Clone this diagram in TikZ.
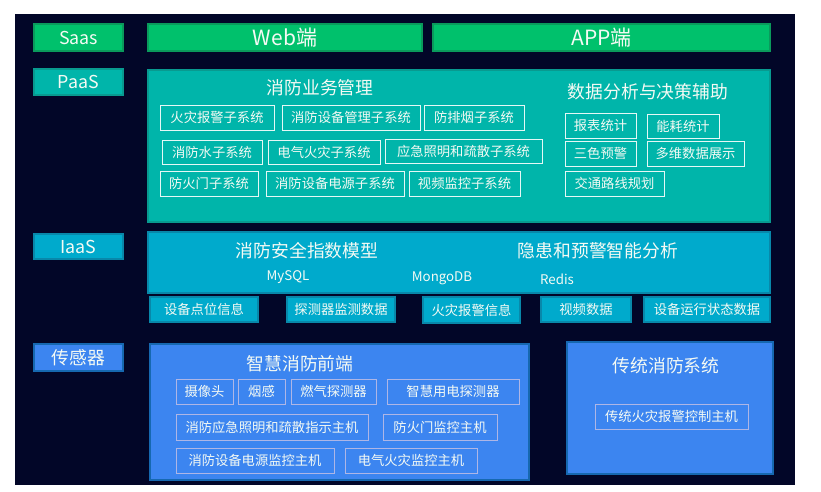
\documentclass[tikz,border=0pt]{standalone}
\usepackage{fontspec}
\setmainfont{Noto Sans CJK SC}
\definecolor{cBg}{HTML}{020628}
\definecolor{cGreen}{HTML}{00C16C}
\definecolor{cGreenB}{HTML}{0A9A5C}
\definecolor{cTeal}{HTML}{00B5AA}
\definecolor{cTealB}{HTML}{089A90}
\definecolor{cCyan}{HTML}{00AACC}
\definecolor{cCyanB}{HTML}{0888AA}
\definecolor{cBlue}{HTML}{3C85F0}
\definecolor{cBlueB}{HTML}{1668B0}
\definecolor{cLav}{HTML}{AEB6E6}
\definecolor{cTxt}{HTML}{F4FAF4}
\newcommand\rbox[7]{\node[#1, minimum width={#5pt-#3pt}, minimum height={#6pt-#4pt}] (#2) at ({(#3+#5)/2},{(#4+#6)/2}) {#7};}
\begin{document}
\begin{tikzpicture}[x=1pt,y=-1pt,
  base/.style={inner sep=0pt, outer sep=0pt, text=cTxt, font=\fontsize{13.3}{15}\selectfont},
  big/.style={base, font=\fontsize{17.8}{20}\selectfont},
  huge/.style={base, font=\fontsize{21}{24}\selectfont},
  grn/.style={fill=cGreen, draw=cGreenB, line width=1.3pt},
  tl/.style={fill=cTeal, draw=cTealB, line width=1.3pt},
  cy/.style={fill=cCyan, draw=cCyanB, line width=1.3pt},
  bl/.style={fill=cBlue, draw=cBlueB, line width=1.3pt},
  sbw/.style={base, draw=white!90!cTeal, line width=0.9pt},
  sbl/.style={base, draw=cLav, line width=0.9pt},
  sbc/.style={base, cy}]
\useasboundingbox (0,0) rectangle (821,491);
\fill[cBg] (15,14) rectangle (795,485);
% SaaS
\rbox{big,grn}{saas}{34}{24}{123}{51}{Saas}
\rbox{huge,grn}{web}{148}{24}{422}{51}{Web端}
\rbox{huge,grn}{app}{433}{24}{770}{51}{APP端}
% PaaS
\rbox{big,tl}{paas}{34}{69}{123}{95}{PaaS}
\rbox{base,tl}{paasbox}{148}{70}{770}{222}{}
\node[big] (t1) at (320,88) {消防业务管理};
\rbox{sbw}{f1}{160}{105}{274}{130}{火灾报警子系统}
\rbox{sbw}{f2}{282}{105}{420}{130}{消防设备管理子系统}
\rbox{sbw}{f3}{424}{105}{524}{130}{防排烟子系统}
\rbox{sbw}{f4}{162}{140}{262}{164}{消防水子系统}
\rbox{sbw}{f5}{268}{140}{380}{164}{电气火灾子系统}
\rbox{sbw}{f6}{385}{139}{542}{163}{应急照明和疏散子系统}
\rbox{sbw}{f7}{160}{171}{258}{196}{防火门子系统}
\rbox{sbw}{f8}{266}{171}{404}{196}{消防设备电源子系统}
\rbox{sbw}{f9}{409}{171}{520}{196}{视频监控子系统}
\node[big] (t2) at (648,92) {数据分析与决策辅助};
\rbox{sbw}{d1}{565}{113}{636}{138}{报表统计}
\rbox{sbw}{d2}{647}{114}{719}{138}{能耗统计}
\rbox{sbw}{d3}{565}{141}{636}{166}{三色预警}
\rbox{sbw}{d4}{647}{141}{744}{166}{多维数据展示}
\rbox{sbw}{d5}{565}{171}{664}{196}{交通路线规划}
% IaaS
\rbox{big,cy}{iaas}{34}{234}{123}{259}{IaaS}
\rbox{base,cy}{iaasbox}{148}{232}{770}{293}{}
\node[big] (t3) at (307,251) {消防安全指数模型};
\node[big] (t4) at (598,251) {隐患和预警智能分析};
\node[base] (db1) at (288,277) {MySQL};
\node[base] (db2) at (442,278) {MongoDB};
\node[base] (db3) at (557,279) {Redis};
\rbox{sbc}{g1}{150}{297}{258}{322}{设备点位信息}
\rbox{sbc}{g2}{287}{297}{395}{322}{探测器监测数据}
\rbox{sbc}{g3}{423}{297}{520}{323}{火灾报警信息}
\rbox{sbc}{g4}{541}{297}{631}{322}{视频数据}
\rbox{sbc}{g5}{644}{297}{770}{322}{设备运行状态数据}
% Sensors
\rbox{big,bl}{sens}{34}{344}{123}{371}{传感器}
\rbox{base,bl}{frontbox}{150}{344}{529}{480}{}
\node[big] (t5) at (300,364) {智慧消防前端};
\rbox{sbl}{h1}{176}{379}{233}{404}{摄像头}
\rbox{sbl}{h2}{238}{379}{285}{404}{烟感}
\rbox{sbl}{h3}{291}{379}{376}{404}{燃气探测器}
\rbox{sbl}{h4}{387}{379}{519}{404}{智慧用电探测器}
\rbox{sbl}{h5}{176}{414}{368}{440}{消防应急照明和疏散指示主机}
\rbox{sbl}{h6}{383}{414}{497}{440}{防火门监控主机}
\rbox{sbl}{h7}{176}{448}{334}{473}{消防设备电源监控主机}
\rbox{sbl}{h8}{345}{448}{477}{473}{电气火灾监控主机}
\rbox{base,bl}{tradbox}{567}{342}{773}{474}{}
\node[big] (t6) at (666,366) {传统消防系统};
\rbox{sbl}{k1}{595}{404}{748}{429}{传统火灾报警控制主机}
\end{tikzpicture}
\end{document}
